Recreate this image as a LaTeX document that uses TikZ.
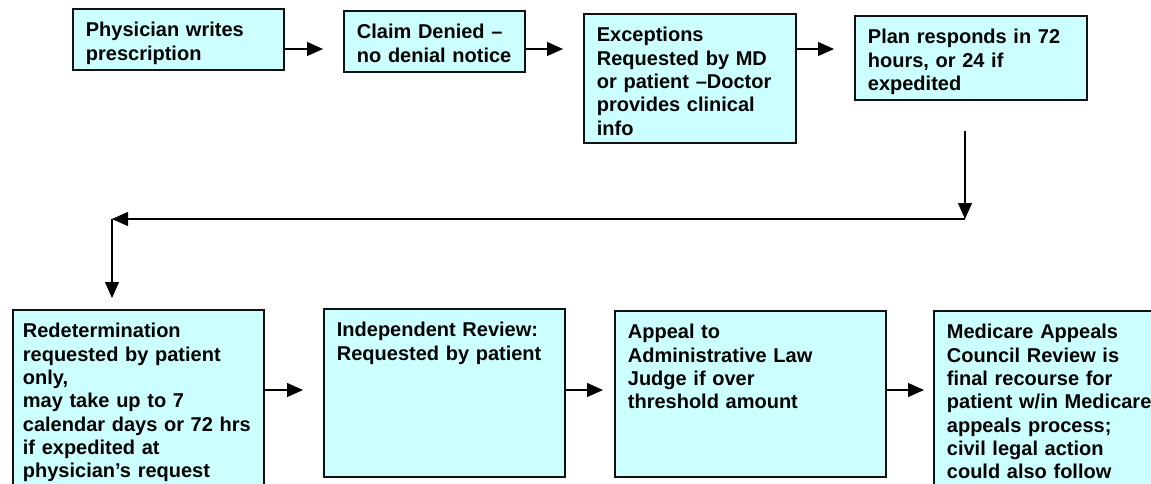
\documentclass[tikz,border=0pt]{standalone}
\usepackage{xcolor}
\usepackage{fontspec}
\setmainfont{Liberation Sans}
\usetikzlibrary{arrows.meta}
\definecolor{boxcyan}{HTML}{CCFFFF}
\definecolor{edgegray}{HTML}{111111}

\tikzset{
  stepbox/.style 2 args={draw=edgegray, line width=0.9pt, fill=boxcyan, anchor=north west,
    align=left, inner xsep=6.5pt, inner ysep=0pt, text width=#1, text height=14pt, text depth=#2,
    font=\bfseries\fontsize{10pt}{11.65pt}\selectfont},
  flow/.style={line width=0.6pt, -{Triangle[length=8pt,width=7pt]}}
}

\begin{document}
\begin{tikzpicture}[x=0.5pt, y=-0.5pt]

% picture frame (pixels of the reference)
\clip (0,0) rectangle (1151,483);

% Top row
\node[stepbox={92.5pt}{16.5pt}] (b1) at (72,8) {Physician writes\\prescription};
\node[stepbox={77.5pt}{16.5pt}] (b2) at (343,10) {Claim Denied –\\no denial notice};
\node[stepbox={93pt}{50.5pt}] (b3) at (583,13) {Exceptions\\Requested by MD\\or patient –Doctor\\provides clinical\\info};
\node[stepbox={103pt}{28pt}] (b4) at (854,15) {Plan responds in 72\\hours, or 24 if\\expedited};

% Bottom row
\node[stepbox={115.5pt}{76pt}, inner xsep=5pt] (b5) at (12,309) {Redetermination\\requested by patient\\only,\\may take up to 7\\\mbox{calendar days or 72 hrs}\\if expedited at\\physician’s request};
\node[stepbox={107.5pt}{70pt}] (b6) at (323,308) {Independent Review:\\Requested by patient};
\node[stepbox={122.5pt}{69pt}] (b7) at (614,310) {Appeal to\\Administrative Law\\Judge if over\\threshold amount};
\node[stepbox={105.5pt}{76pt}] (b8) at (933,310) {Medicare Appeals\\Council Review is\\final recourse for\\patient w/in Medicare\\appeals process;\\civil legal action\\could also follow};

% Arrow levels and turning points
\coordinate (row1) at (0,49);
\coordinate (row2) at (0,390);
\coordinate (turnR) at (965,219);
\coordinate (turnL) at (112,219);

% Arrows, top row
\draw[flow, shorten >=10pt] (b1.east |- row1) -- (b2.west |- row1);
\draw[flow, shorten >=10pt] (b2.east |- row1) -- (b3.west |- row1);
\draw[flow, shorten >=10pt] (b3.east |- row1) -- (b4.west |- row1);

% Return path
\draw[flow, shorten <=15pt] (b4.south -| turnR) -- (turnR);
\draw[flow] (turnR) -- (turnL);
\draw[flow, shorten >=5.5pt] (turnL) -- (b5.north -| turnL);

% Arrows, bottom row
\draw[flow, shorten >=10pt] (b5.east |- row2) -- (b6.west |- row2);
\draw[flow, shorten >=5.5pt] (b6.east |- row2) -- (b7.west |- row2);
\draw[flow, shorten >=4.5pt] (b7.east |- row2) -- (b8.west |- row2);

\end{tikzpicture}
\end{document}
